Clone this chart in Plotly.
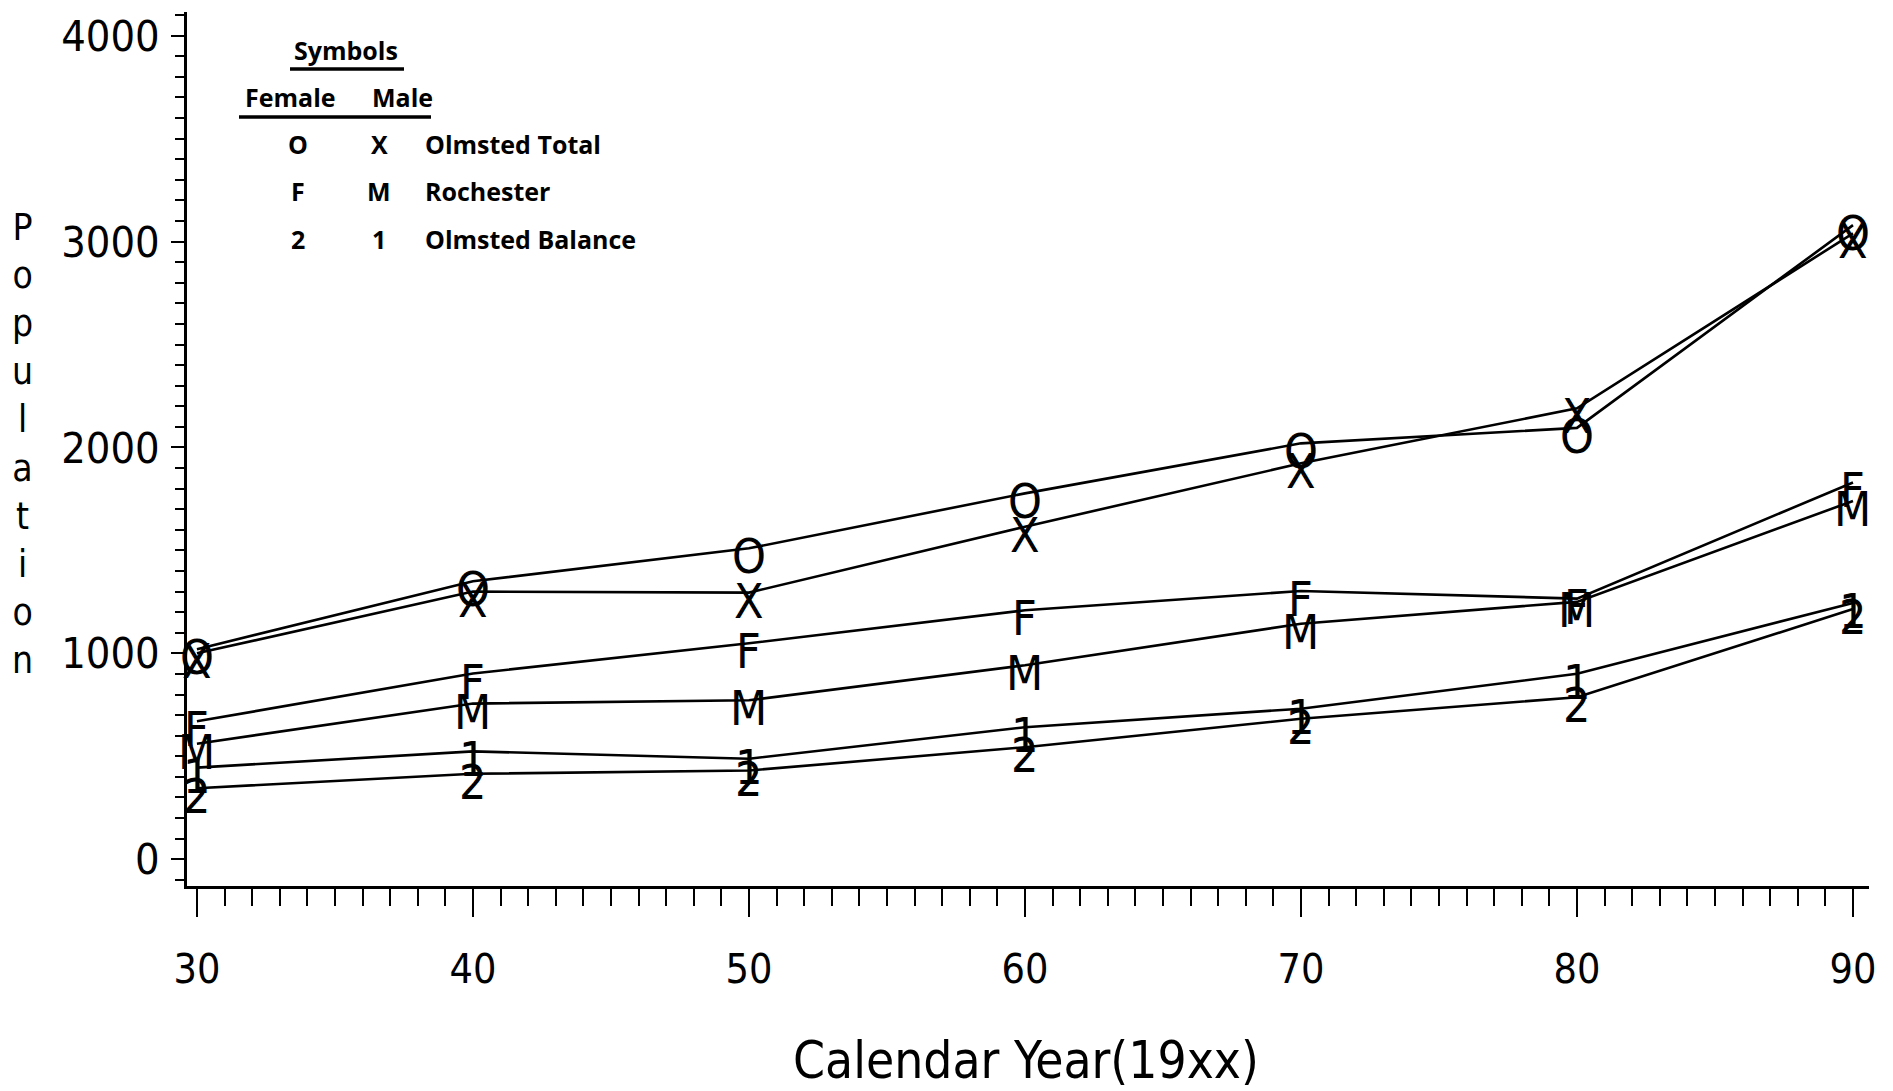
import plotly.graph_objects as go

# ---- data ----
years = [30, 40, 50, 60, 70, 80, 90]
olmsted_total_female = [1020, 1350, 1510, 1777, 2020, 2095, 3080]
olmsted_total_male = [1000, 1300, 1295, 1615, 1923, 2190, 3040]
rochester_female = [670, 902, 1049, 1209, 1303, 1266, 1830]
rochester_male = [561, 756, 772, 942, 1144, 1250, 1740]
balance_female = [345, 415, 431, 544, 682, 787, 1215]
balance_male = [445, 524, 488, 641, 731, 901, 1245]

series = [
    ("Olmsted Total Female", olmsted_total_female, "O"),
    ("Olmsted Total Male", olmsted_total_male, "X"),
    ("Rochester Female", rochester_female, "F"),
    ("Rochester Male", rochester_male, "M"),
    ("Olmsted Balance Female", balance_female, "2"),
    ("Olmsted Balance Male", balance_male, "1"),
]

legend_rows = [("O", "X", "Olmsted Total"), ("F", "M", "Rochester"), ("2", "1", "Olmsted Balance")]
x_ticks = [30, 40, 50, 60, 70, 80, 90]
y_ticks = [0, 1000, 2000, 3000, 4000]

NARROW = "Liberation Sans Narrow, DejaVu Sans Condensed, Liberation Sans, sans-serif"
LEG = "Open Sans, Lato, sans-serif"

W, H = 1893, 1091
L, R, T, B = 187, 24, 12, 205
pw, ph = W - L - R, H - T - B


def px(x):
    return (x - L) / pw


def py(y):
    return (H - B - y) / ph


fig = go.Figure()
for name, vals, sym in series:
    fig.add_trace(go.Scatter(
        x=years, y=vals, name=name, mode="lines",
        line=dict(color="black", width=2.6),
        showlegend=False, cliponaxis=False,
    ))

ann = []
# point symbols, placed at the data coordinates of each series
for name, vals, sym in series:
    for xv, yv in zip(years, vals):
        ann.append(dict(text=sym, x=xv, y=yv, xref="x", yref="y",
                        xanchor="center", yanchor="middle", yshift=-8,
                        showarrow=False,
                        font=dict(family=NARROW, size=48, color="black")))

fig.update_layout(
    width=W, height=H,
    margin=dict(l=L, r=R, t=T, b=B),
    paper_bgcolor="white", plot_bgcolor="white",
    showlegend=False,
)

fig.update_xaxes(
    range=[29.64, 90.58], showgrid=False, zeroline=False,
    showline=True, linecolor="black", linewidth=2.5,
    tickmode="array", tickvals=x_ticks, ticktext=[str(v) for v in x_ticks],
    ticks="outside", ticklen=28, tickwidth=2, tickcolor="black",
    minor=dict(dtick=1, tick0=30, ticks="outside", ticklen=17, tickwidth=1.5, tickcolor="black"),
    tickfont=dict(family=NARROW, size=41, color="black"),
    ticklabelstandoff=17,
)
fig.update_yaxes(
    range=[-130, 4115], showgrid=False, zeroline=False,
    showline=True, linecolor="black", linewidth=2.5,
    tickmode="array", tickvals=y_ticks, ticktext=[str(v) for v in y_ticks],
    ticks="outside", ticklen=13, tickwidth=2, tickcolor="black",
    minor=dict(dtick=100, tick0=0, ticks="outside", ticklen=9, tickwidth=1.5, tickcolor="black"),
    tickfont=dict(family=NARROW, size=43, color="black"),
    ticklabelstandoff=3,
)

# axis titles
ann.append(dict(text="<br>".join(list("Population")), x=px(22), y=py(444),
                xref="paper", yref="paper", xanchor="center", yanchor="middle",
                showarrow=False, font=dict(family=NARROW, size=37, color="black")))
ann.append(dict(text="Calendar Year(19xx)", x=px(1026), y=py(1060),
                xref="paper", yref="paper", xanchor="center", yanchor="middle",
                showarrow=False, font=dict(family=NARROW, size=51, color="black")))
# legend block
lf = dict(family=LEG, size=25, color="black", weight="bold")
ann.append(dict(text="Symbols", x=px(346), y=py(50), xref="paper", yref="paper",
                xanchor="center", yanchor="middle", showarrow=False, font=lf))
ann.append(dict(text="Female", x=px(290), y=py(97), xref="paper", yref="paper",
                xanchor="center", yanchor="middle", showarrow=False, font=lf))
ann.append(dict(text="Male", x=px(402), y=py(97), xref="paper", yref="paper",
                xanchor="center", yanchor="middle", showarrow=False, font=lf))
for (fs, ms, lab), yy in zip(legend_rows, [144, 191, 239]):
    ann.append(dict(text=fs, x=px(298), y=py(yy), xref="paper", yref="paper",
                    xanchor="center", yanchor="middle", showarrow=False, font=lf))
    ann.append(dict(text=ms, x=px(379), y=py(yy), xref="paper", yref="paper",
                    xanchor="center", yanchor="middle", showarrow=False, font=lf))
    ann.append(dict(text=lab, x=px(423), y=py(yy), xref="paper", yref="paper",
                    xanchor="left", yanchor="middle", showarrow=False, font=lf))
fig.update_layout(annotations=ann)

fig.update_layout(shapes=[
    dict(type="line", xref="paper", yref="paper", x0=px(290), x1=px(404), y0=py(69), y1=py(69),
         line=dict(color="black", width=3.5)),
    dict(type="line", xref="paper", yref="paper", x0=px(239), x1=px(431), y0=py(117), y1=py(117),
         line=dict(color="black", width=3.5)),
])

fig.write_html("out.html")
